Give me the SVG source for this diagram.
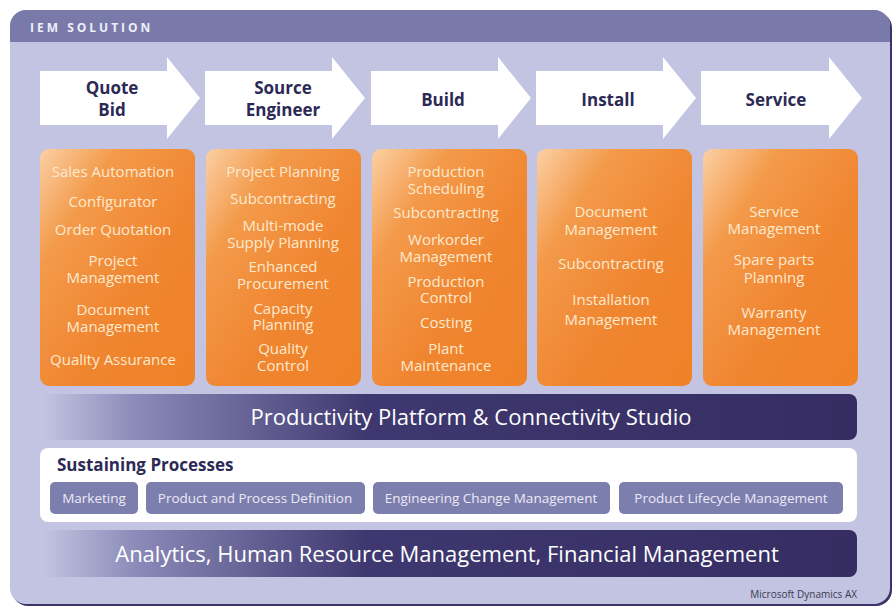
<svg xmlns="http://www.w3.org/2000/svg" width="894" height="607" viewBox="0 0 894 607">
<defs>
<linearGradient id="og" x1="0" y1="0" x2="1" y2="1">
<stop offset="0" stop-color="#fbd0a4"/>
<stop offset="0.25" stop-color="#f39a4a"/>
<stop offset="0.6" stop-color="#f08530"/>
<stop offset="1" stop-color="#ef8228"/>
</linearGradient>
<linearGradient id="bg" x1="0" y1="0" x2="1" y2="0">
<stop offset="0" stop-color="#c4c6e2"/>
<stop offset="0.12" stop-color="#8a89b8"/>
<stop offset="0.4" stop-color="#3f3870"/>
<stop offset="1" stop-color="#352d62"/>
</linearGradient>
<clipPath id="panel"><rect x="10" y="10" width="880" height="594" rx="16"/></clipPath>
<style>
.ot{font-family:"Open Sans","Liberation Sans",sans-serif;font-size:15px;fill:#fde9cf;text-anchor:middle}
.at{font-family:"Open Sans","Liberation Sans",sans-serif;font-size:17px;font-weight:bold;fill:#2c2a55;text-anchor:middle}
.bt{font-family:"Open Sans","Liberation Sans",sans-serif;font-size:22px;fill:#ffffff;text-anchor:middle}
.pt{font-family:"Open Sans","Liberation Sans",sans-serif;font-size:13.5px;fill:#eceaf6;text-anchor:middle}
.pill{fill:#7c7eae}
.arrow{fill:#ffffff}
.box{fill:url(#og)}
</style>
</defs>
<rect width="894" height="607" fill="#ffffff"/>
<g id="panel-bg">
<rect x="12" y="12" width="880" height="594" rx="16" fill="#3a3468"/>
<rect x="10" y="10" width="880" height="594" rx="16" fill="#c2c4e1"/>
<rect x="10" y="10" width="880" height="32" fill="#7a7aaa" clip-path="url(#panel)"/>
<text x="30" y="32" font-family="'Open Sans','Liberation Sans',sans-serif" font-size="12" font-weight="bold" fill="#eef0fa" letter-spacing="3">IEM SOLUTION</text>
</g>
<g id="arrow-quote">
<polygon class="arrow" points="40,71 167,71 167,57 200,98 167,139 167,125 40,125"/>
<text class="at" x="112" y="94">Quote<tspan x="112" dy="22">Bid</tspan></text>
</g>
<g id="arrow-source">
<polygon class="arrow" points="205,71 332,71 332,57 365,98 332,139 332,125 205,125"/>
<text class="at" x="283" y="94">Source<tspan x="283" dy="22">Engineer</tspan></text>
</g>
<g id="arrow-build">
<polygon class="arrow" points="371,71 498,71 498,57 531,98 498,139 498,125 371,125"/>
<text class="at" x="443" y="106">Build</text>
</g>
<g id="arrow-install">
<polygon class="arrow" points="536,71 663,71 663,57 696,98 663,139 663,125 536,125"/>
<text class="at" x="608" y="106">Install</text>
</g>
<g id="arrow-service">
<polygon class="arrow" points="701,71 829,71 829,57 862,98 829,139 829,125 701,125"/>
<text class="at" x="776" y="106">Service</text>
</g>
<g id="box-quote">
<rect class="box" x="40" y="149" width="155" height="237" rx="9"/>
<text class="ot" x="113" y="177">Sales Automation</text>
<text class="ot" x="113" y="207">Configurator</text>
<text class="ot" x="113" y="235">Order Quotation</text>
<text class="ot" x="113" y="266">Project<tspan x="113" dy="17">Management</tspan></text>
<text class="ot" x="113" y="315">Document<tspan x="113" dy="17">Management</tspan></text>
<text class="ot" x="113" y="365">Quality Assurance</text>
</g>
<g id="box-source">
<rect class="box" x="206" y="149" width="155" height="237" rx="9"/>
<text class="ot" x="283" y="177">Project Planning</text>
<text class="ot" x="283" y="204">Subcontracting</text>
<text class="ot" x="283" y="231">Multi-mode<tspan x="283" dy="17">Supply Planning</tspan></text>
<text class="ot" x="283" y="272">Enhanced<tspan x="283" dy="17">Procurement</tspan></text>
<text class="ot" x="283" y="314">Capacity<tspan x="283" dy="16">Planning</tspan></text>
<text class="ot" x="283" y="354">Quality<tspan x="283" dy="17">Control</tspan></text>
</g>
<g id="box-build">
<rect class="box" x="372" y="149" width="155" height="237" rx="9"/>
<text class="ot" x="446" y="177">Production<tspan x="446" dy="17">Scheduling</tspan></text>
<text class="ot" x="446" y="218">Subcontracting</text>
<text class="ot" x="446" y="245">Workorder<tspan x="446" dy="17">Management</tspan></text>
<text class="ot" x="446" y="287">Production<tspan x="446" dy="16">Control</tspan></text>
<text class="ot" x="446" y="328">Costing</text>
<text class="ot" x="446" y="354">Plant<tspan x="446" dy="17">Maintenance</tspan></text>
</g>
<g id="box-install">
<rect class="box" x="537" y="149" width="155" height="237" rx="9"/>
<text class="ot" x="611" y="217">Document<tspan x="611" dy="18">Management</tspan></text>
<text class="ot" x="611" y="269">Subcontracting</text>
<text class="ot" x="611" y="305">Installation<tspan x="611" dy="20">Management</tspan></text>
</g>
<g id="box-service">
<rect class="box" x="703" y="149" width="155" height="237" rx="9"/>
<text class="ot" x="774" y="217">Service<tspan x="774" dy="17">Management</tspan></text>
<text class="ot" x="774" y="265">Spare parts<tspan x="774" dy="18">Planning</tspan></text>
<text class="ot" x="774" y="318">Warranty<tspan x="774" dy="17">Management</tspan></text>
</g>
<g id="bar-productivity">
<rect x="40" y="394" width="817" height="46" rx="8" fill="url(#bg)"/>
<text class="bt" x="471" y="425">Productivity Platform &amp; Connectivity Studio</text>
</g>
<g id="sustaining">
<rect x="40" y="448" width="817" height="74" rx="8" fill="#ffffff"/>
<text x="57" y="471" font-family="'Open Sans','Liberation Sans',sans-serif" font-size="17" font-weight="bold" fill="#2c2a55">Sustaining Processes</text>
<g id="pill-marketing"><rect class="pill" x="50" y="482" width="88" height="32" rx="5"/><text class="pt" x="94" y="503">Marketing</text></g>
<g id="pill-ppd"><rect class="pill" x="146" y="482" width="219" height="32" rx="5"/><text class="pt" x="255" y="503">Product and Process Definition</text></g>
<g id="pill-ecm"><rect class="pill" x="373" y="482" width="237" height="32" rx="5"/><text class="pt" x="491" y="503">Engineering Change Management</text></g>
<g id="pill-plm"><rect class="pill" x="619" y="482" width="224" height="32" rx="5"/><text class="pt" x="731" y="503">Product Lifecycle Management</text></g>
</g>
<g id="bar-analytics">
<rect x="40" y="530" width="817" height="47" rx="8" fill="url(#bg)"/>
<text class="bt" x="447" y="562">Analytics, Human Resource Management, Financial Management</text>
</g>
<text x="857" y="598" font-family="'Open Sans','Liberation Sans',sans-serif" font-size="10" fill="#3a3a50" text-anchor="end">Microsoft Dynamics AX</text>
<g id="connectors"/>
</svg>
